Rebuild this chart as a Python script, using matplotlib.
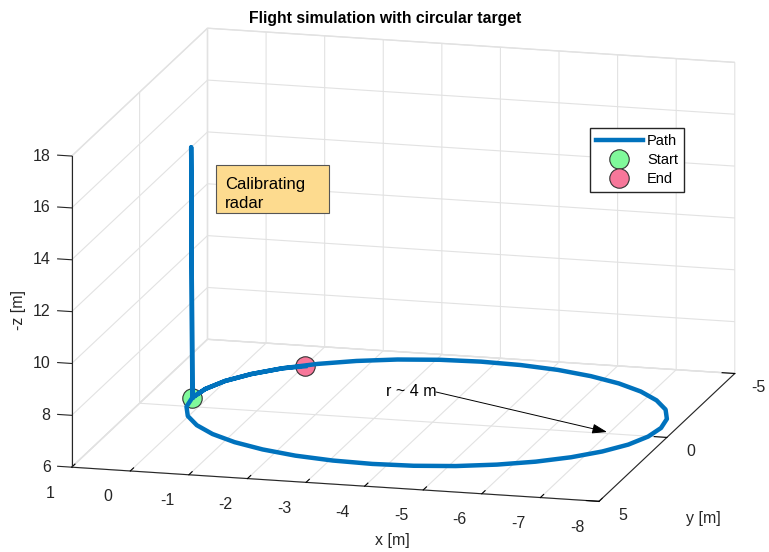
import matplotlib
matplotlib.use('Agg')
import matplotlib.pyplot as plt
from matplotlib.patches import Rectangle
from mpl_toolkits.mplot3d import proj3d

plt.rcParams['font.family'] = ['Liberation Sans', 'DejaVu Sans']
plt.rcParams['axes.unicode_minus'] = False

# flight path: climb, come back down, then ~1.1 loops of the r~4 circle
path_x = [0.1, 0.12, 0.1,
          0.04, -0.14, -0.44, -0.84, -1.33, -1.9, -2.53, -3.21, -3.9,
          -4.59, -5.27, -5.9, -6.47, -6.96, -7.36, -7.66, -7.84, -7.9,
          -7.84, -7.66, -7.36, -6.96, -6.47, -5.9, -5.27, -4.59, -3.9,
          -3.21, -2.53, -1.9, -1.33, -0.84, -0.44, -0.14, 0.04, 0.1,
          0.04, -0.14, -0.44, -0.84, -1.17]
path_y = [0.0, 0.0, 0.0,
          -0.69, -1.37, -2.0, -2.57, -3.06, -3.46, -3.76, -3.94, -4.0,
          -3.94, -3.76, -3.46, -3.06, -2.57, -2.0, -1.37, -0.69, 0.0,
          0.69, 1.37, 2.0, 2.57, 3.06, 3.46, 3.76, 3.94, 4.0,
          3.94, 3.76, 3.46, 3.06, 2.57, 2.0, 1.37, 0.69, 0.0,
          -0.69, -1.37, -2.0, -2.57, -2.83]
path_z = [6.35, 16.0, 6.35] + [6.35] * 41

start_pt = (0.1, 0.0, 6.35)
end_pt = (-1.17, -2.83, 6.35)

x_ticks = [1, 0, -1, -2, -3, -4, -5, -6, -7, -8]
y_ticks = [-5, 0, 5]
z_ticks = [6, 8, 10, 12, 14, 16, 18]

W, H = 769, 552
fig = plt.figure(figsize=(W / 100, H / 100), dpi=100)
ax = fig.add_axes([0.05, 0.05, 0.9, 0.9], projection='3d')
ax.set_proj_type('ortho')
ax.view_init(elev=14.3, azim=104.7)
ax.set_box_aspect((545, 535, 321))
ax.computed_zorder = False

ax.plot([start_pt[0]], [start_pt[1]], [start_pt[2]], 'o', ms=14, mfc='#80f99b',
        mec='#333333', mew=0.8, label='Start', zorder=3)
ax.plot([end_pt[0]], [end_pt[1]], [end_pt[2]], 'o', ms=14, mfc='#f7779a',
        mec='#333333', mew=0.8, label='End', zorder=3)
ax.plot(path_x, path_y, path_z, color='#0072bd', lw=3.2, label='Path', zorder=4)

ax.set_xlim(-8, 1)
ax.set_ylim(-5, 5)
ax.set_zlim(6, 18)
ax.set_xticks(x_ticks)
ax.set_yticks(y_ticks)
ax.set_zticks(z_ticks)

axis_col = '#262626'
for a in (ax.xaxis, ax.yaxis, ax.zaxis):
    a.set_pane_color((1, 1, 1, 1))
    a.pane.set_edgecolor('#e2e2e2')
    a.line.set_color(axis_col)
    a.line.set_linewidth(0.8)
    a._axinfo['grid'].update(color='#e2e2e2', linewidth=0.8)
    a._axinfo['tick']['inward_factor'] = 0.0
    a._axinfo['tick']['outward_factor'] = 0.3
    a._axinfo['tick']['color'] = axis_col
    # tick labels are placed by hand below
    a.set_tick_params(labelbottom=False, labeltop=False)
# z axis sits on the front-left edge in the reference; draw it there by hand
ax.zaxis.line.set_visible(False)
ax.zaxis._axinfo['tick']['outward_factor'] = 0.0
ax.plot([1, 1], [5, 5], [6, 18], color=axis_col, lw=0.8, zorder=2)
for z in z_ticks:
    ax.plot([1, 1.24], [5, 5], [z, z], color=axis_col, lw=0.8, zorder=2)

# fit the projected box onto where the reference draws it
corners = [(1, 5, 6), (-8, 5, 6), (-8, -5, 6), (1, -5, 6), (1, -5, 18), (1, 5, 18), (-8, -5, 18)]
targets = [(72, 467), (599, 501), (735, 374), (207, 339), (207, 28), (72, 156), (735, 63)]
targets = [(tx, H - ty) for tx, ty in targets]
for _ in range(2):
    fig.canvas.draw()
    bb = ax.get_position().transformed(fig.transFigure)
    cx0, cy0, L0 = (bb.x0 + bb.x1) / 2, (bb.y0 + bb.y1) / 2, bb.width
    M = ax.get_proj()
    us = []
    for c in corners:
        xs, ys, _ = proj3d.proj_transform(c[0], c[1], c[2], M)
        px, py = ax.transData.transform((xs, ys))
        us.append(((px - cx0) / L0, (py - cy0) / L0))
    ubx = sum(u[0] for u in us) / len(us)
    uby = sum(u[1] for u in us) / len(us)
    tbx = sum(t[0] for t in targets) / len(targets)
    tby = sum(t[1] for t in targets) / len(targets)
    num = sum((u[0] - ubx) * (t[0] - tbx) + (u[1] - uby) * (t[1] - tby) for u, t in zip(us, targets))
    den = sum((u[0] - ubx) ** 2 + (u[1] - uby) ** 2 for u in us)
    L = num / den
    cx, cy = tbx - L * ubx, tby - L * uby
    ax.set_position([(cx - L / 2) / W, (cy - L / 2) / H, L / W, L / H])
fig.canvas.draw()


def tick_label(pt, text, dx, dy, ha='center'):
    # label as a 2D annotation next to the projected tick point
    M = ax.get_proj()
    xs, ys, _ = proj3d.proj_transform(pt[0], pt[1], pt[2], M)
    ax.annotate(text, xy=(xs, ys), xycoords='data', xytext=(dx, dy), textcoords='offset pixels',
                ha=ha, va='center', fontsize=11.5, color=axis_col, annotation_clip=False)


for z in z_ticks:
    tick_label((1, 5, z), str(z), -21, 0, ha='right')
for x in x_ticks:
    tick_label((x, 5, 6), str(x), -22, -26)
for y in y_ticks:
    tick_label((-8, y, 6), str(y), 24, -14)

fig.text(385 / W, 1 - 18 / H, 'Flight simulation with circular target', ha='center', va='center',
         fontsize=11.3, fontweight='bold', color='black')
fig.text(392 / W, 1 - 540 / H, 'x [m]', ha='center', va='center', fontsize=11.5, color=axis_col)
fig.text(703 / W, 1 - 518 / H, 'y [m]', ha='center', va='center', fontsize=11.5, color=axis_col)
fig.text(18 / W, 1 - 310 / H, '-z [m]', ha='center', va='center', rotation=90, fontsize=11.5, color=axis_col)

# "Calibrating radar" note box
fig.add_artist(Rectangle((216 / W, 1 - 213 / H), 113 / W, 48 / H, transform=fig.transFigure,
                         fc='#fddb8f', ec='#555555', lw=0.8))
fig.text(225 / W, 1 - 194 / H, 'Calibrating\nradar', ha='left', va='center', fontsize=12,
         linespacing=1.3, color='black')

fig.text(436 / W, 1 - 392 / H, 'r ~ 4 m', ha='right', va='center', fontsize=11.5, color='black')
ax.annotate('', xy=(607 / W, 1 - 432 / H), xytext=(436 / W, 1 - 392 / H),
            xycoords='figure fraction', textcoords='figure fraction',
            arrowprops=dict(arrowstyle='-|>,head_length=0.9,head_width=0.3', color='black', lw=0.7,
                            shrinkA=0, shrinkB=0))

handles, labels = ax.get_legend_handles_labels()
order = [labels.index(n) for n in ('Path', 'Start', 'End')]
fig.legend([handles[i] for i in order], [labels[i] for i in order],
           loc='upper left', bbox_to_anchor=(590 / W, 1 - 128 / H), fontsize=10.5,
           frameon=True, fancybox=False, edgecolor=axis_col, framealpha=1,
           handlelength=3.2, handletextpad=0.3, borderpad=0.4, labelspacing=0.36,
           borderaxespad=0, numpoints=1)

fig.savefig('out.png', dpi=100)
